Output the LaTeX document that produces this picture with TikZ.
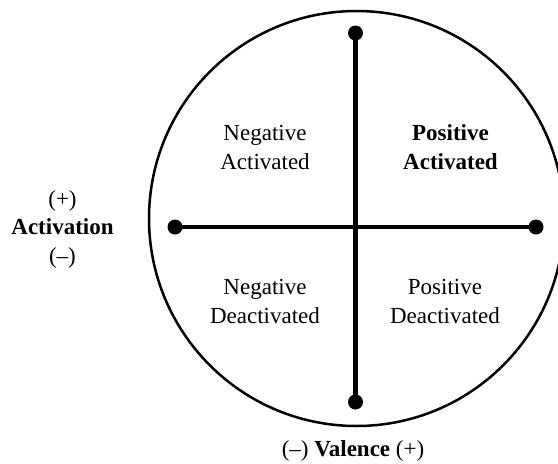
\documentclass[tikz,border=0pt]{standalone}
\usepackage{fontspec}
\setmainfont{Liberation Serif}
\usepackage{xcolor}
\usepackage{tikz}
\usetikzlibrary{positioning,calc}

\tikzset{
  dot/.style={circle, fill=black, inner sep=0pt, minimum size=15pt},
  axis/.style={line width=4.5pt},
  quad/.style={align=center, font=\fontsize{23}{29}\selectfont},
}

\begin{document}
\begin{tikzpicture}[x=1pt, y=-1pt]
  \useasboundingbox (0,0) rectangle (558,464);
  \draw [line width=2.5pt] (356.5,218.5) circle [radius=207.5];
  % axis end points
  \node[dot] (top) at (355.5,33) {};
  \node[dot] (bot) at (355.5,402) {};
  \node[dot] (lft) at (175,227) {};
  \node[dot] (rgt) at (536,227) {};
  \draw [axis] (top.center) -- (bot.center);
  \draw [axis] (lft.center) -- (rgt.center);
  % quadrant labels
  \node[quad] (na) at (265,147.5) {Negative\\Activated};
  \node[quad] (pa) at (450.5,147.5) {\bfseries Positive\\\bfseries Activated};
  \node[quad] (nd) at (265,301.5) {Negative\\Deactivated};
  \node[quad] (pd) at (445,301.5) {Positive\\Deactivated};
  % axis titles
  \node[quad, font=\fontsize{23}{28.5}\selectfont] (act) at (62.5,229) {(+)\\\bfseries Activation\\(–)};
  \node[quad] (val) at (353,451) {(–) \textbf{Valence} (+)};
\end{tikzpicture}
\end{document}
